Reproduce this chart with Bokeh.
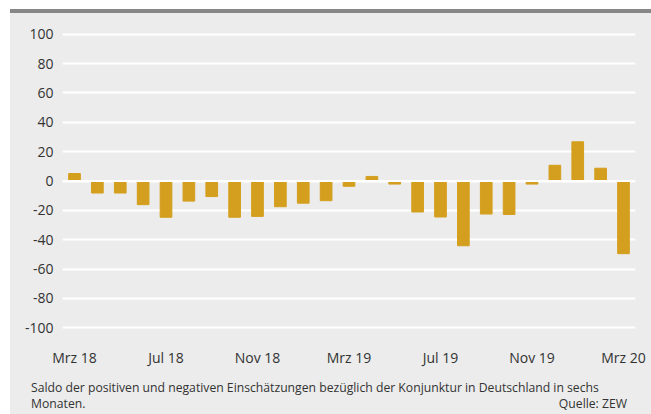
from bokeh.plotting import figure
from bokeh.models import ColumnDataSource, Range1d, FixedTicker, Span, Div
from bokeh.layouts import column
from bokeh.embed import file_html
from bokeh.resources import INLINE

# Data: ZEW Konjunkturerwartungen Deutschland, Saldo (Mrz 2018 - Mrz 2020)
months = ["Mrz 18", "Apr 18", "Mai 18", "Jun 18", "Jul 18", "Aug 18", "Sep 18", "Okt 18",
          "Nov 18", "Dez 18", "Jan 19", "Feb 19", "Mrz 19", "Apr 19", "Mai 19", "Jun 19",
          "Jul 19", "Aug 19", "Sep 19", "Okt 19", "Nov 19", "Dez 19", "Jan 20", "Feb 20", "Mrz 20"]
values = [5.1, -8.2, -8.2, -16.1, -24.7, -13.7, -10.6, -24.7, -24.1, -17.5, -15.1, -13.4,
          -3.6, 3.1, -2.1, -21.1, -24.5, -44.1, -22.5, -22.8, -2.1, 10.7, 26.7, 8.7, -49.5]
y_ticks = [-100, -80, -60, -40, -20, 0, 20, 40, 60, 80, 100]
y_tick_labels = ["-100", "-80", "-60", "-40", "-20", "0", "20", "40", "60", "80", "100"]
x_tick_idx = [0, 4, 8, 12, 16, 20, 24]

BG = "#ebeceb"
BAR = "#d49f1e"
TXT = "#333333"
FONT = "Open Sans"

idx = list(range(len(months)))
src = ColumnDataSource(dict(x=idx, top=values, month=months))

p = figure(frame_width=573, frame_height=323, output_backend="svg", toolbar_location=None,
           x_range=Range1d(-0.525, len(months) - 1 + 0.525), y_range=Range1d(-110, 110),
           min_border_left=52, min_border_right=16, min_border_top=6, min_border_bottom=20)
p.background_fill_color = BG
p.border_fill_color = BG
p.outline_line_color = None

p.vbar(x="x", top="top", bottom=0, width=0.51, source=src, color=BAR)
p.add_layout(Span(location=0, dimension="width", line_color="white", line_width=2, level="overlay"))

p.xgrid.grid_line_color = None
p.ygrid.grid_line_color = "white"
p.ygrid.grid_line_width = 2
p.ygrid.ticker = FixedTicker(ticks=y_ticks)

p.yaxis.ticker = FixedTicker(ticks=y_ticks)
p.yaxis.major_label_overrides = dict(zip(y_ticks, y_tick_labels))
p.xaxis.ticker = FixedTicker(ticks=x_tick_idx)
p.xaxis.major_label_overrides = {i: months[i] for i in x_tick_idx}
for ax in (p.xaxis[0], p.yaxis[0]):
    ax.axis_line_color = None
    ax.major_tick_line_color = None
    ax.minor_tick_line_color = None
    ax.major_label_text_font = FONT
    ax.major_label_text_font_size = "14px"
    ax.major_label_text_color = TXT
p.yaxis.major_label_standoff = 3
p.xaxis.major_label_standoff = -1

caption = Div(
    text=(f'<div style="font-family:\'{FONT}\';font-size:12.2px;color:{TXT};line-height:16px;'
          'width:612px;padding-left:16px;">'
          'Saldo der positiven und negativen Einschätzungen bezüglich der Konjunktur in Deutschland in sechs'
          '<div style="display:flex;justify-content:space-between;">'
          '<span>Monaten.</span><span>Quelle: ZEW</span></div></div>'),
    width=641, height=34, styles={"margin-top": "11px"})

layout = column(p, caption, spacing=0,
                styles={"background-color": BG, "border-top": "4px solid #878787",
                        "margin-left": "10px", "margin-top": "9px"})

open("out.html", "w").write(file_html(layout, INLINE))
